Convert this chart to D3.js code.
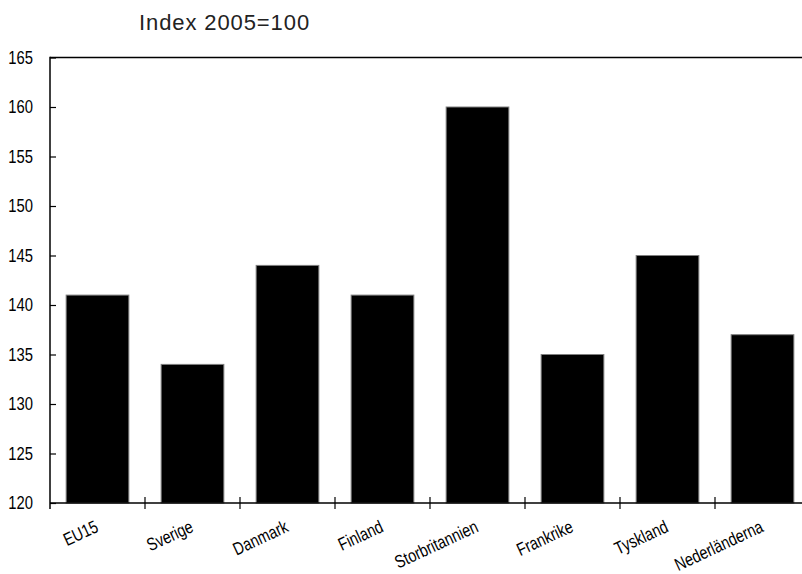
<!DOCTYPE html>
<html>
<head>
<meta charset="utf-8">
<script src="https://cdn.jsdelivr.net/npm/d3@7"></script>
<style>
  html, body { margin: 0; padding: 0; background: #fff; }
  svg { display: block; }
</style>
</head>
<body>
<svg id="chart" width="802" height="574"></svg>
<script>
const categories = ["EU15", "Sverige", "Danmark", "Finland", "Storbritannien", "Frankrike", "Tyskland", "Nederländerna"];
const values = [141, 134, 144, 141, 160, 135, 145, 137];
const yTicks = [120, 125, 130, 135, 140, 145, 150, 155, 160, 165];
const title = "Index 2005=100";

(function () {
const svg = d3.select("#chart");
const mLeft = 50, mRight = 810, mTop = 57.5, mBottom = 503;
const narrowFont = "'Liberation Sans', Arial, sans-serif";

const x = d3.scaleBand().domain(categories).range([mLeft, mRight]).paddingInner(0.34).paddingOuter(0.17);
const y = d3.scaleLinear().domain([120, 165]).range([mBottom, mTop]);

// bars
svg.append("g").selectAll("rect").data(values).join("rect")
  .attr("x", (d, i) => x(categories[i]))
  .attr("width", x.bandwidth())
  .attr("y", d => y(d))
  .attr("height", d => y(120) - y(d))
  .attr("fill", "#000")
  .attr("stroke", "#7f7f7f")
  .attr("stroke-width", 1);

// y axis
const yAxis = d3.axisLeft(y).tickValues(yTicks).tickSize(-6).tickPadding(17).tickFormat(d3.format("d"));
const gy = svg.append("g").attr("transform", `translate(${mLeft},0)`).call(yAxis);
gy.select(".domain").remove();
gy.selectAll(".tick line").attr("stroke", "#000").attr("stroke-width", 1.2);
gy.selectAll(".tick text")
  .attr("x", 0)
  .attr("transform", "translate(-17,0) scale(0.8,1)")
  .attr("font-family", narrowFont)
  .attr("font-size", 18.5)
  .attr("fill", "#000");

// frame lines
svg.append("line").attr("x1", mLeft).attr("x2", 802).attr("y1", mTop).attr("y2", mTop)
  .attr("stroke", "#000").attr("stroke-width", 1.5);
svg.append("line").attr("x1", mLeft).attr("x2", mLeft).attr("y1", mTop - 0.75).attr("y2", mBottom)
  .attr("stroke", "#000").attr("stroke-width", 1.5);
svg.append("line").attr("x1", mLeft).attr("x2", 802).attr("y1", mBottom).attr("y2", mBottom)
  .attr("stroke", "#000").attr("stroke-width", 1.5);

// category boundary ticks
const step = x.step();
const boundaries = categories.slice(1).map(c => x(c) - x.paddingInner() * step / 2);
svg.append("g").selectAll("line").data(boundaries).join("line")
  .attr("x1", d => d).attr("x2", d => d)
  .attr("y1", mBottom - 6).attr("y2", mBottom + 6)
  .attr("stroke", "#000").attr("stroke-width", 1.2);
svg.append("line").attr("x1", mLeft).attr("x2", mLeft).attr("y1", mBottom).attr("y2", mBottom + 6)
  .attr("stroke", "#000").attr("stroke-width", 1.5);

// x labels
svg.append("g").selectAll("text").data(categories).join("text")
  .attr("transform", d => `translate(${x(d) + x.bandwidth() / 2 + 2},${mBottom + 28}) rotate(-25) scale(0.8,1)`)
  .attr("text-anchor", "end")
  .attr("font-family", narrowFont)
  .attr("font-size", 18)
  .attr("fill", "#000")
  .text(d => d);

// title
svg.append("text")
  .attr("x", 139).attr("y", 30)
  .attr("font-family", "'Liberation Sans', Arial, sans-serif")
  .attr("font-size", 22)
  .attr("letter-spacing", 0.9)
  .attr("fill", "#222")
  .text(title);
})();
</script>
</body>
</html>
